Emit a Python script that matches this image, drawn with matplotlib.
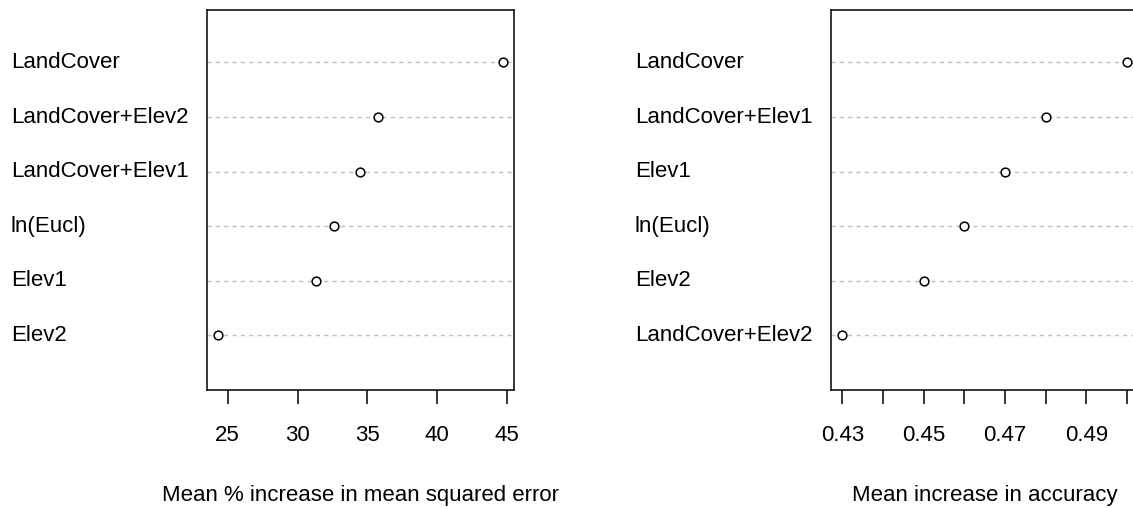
import matplotlib
matplotlib.use("Agg")
import matplotlib.pyplot as plt
from matplotlib.transforms import blended_transform_factory

plt.rcParams['font.family'] = ['Liberation Sans', 'DejaVu Sans']

# Left panel (bottom to top)
left_labels = ["Elev2", "Elev1", "ln(Eucl)", "LandCover+Elev1", "LandCover+Elev2", "LandCover"]
left_values = [24.33, 31.35, 32.63, 34.46, 35.74, 44.69]
left_ticks = [25, 30, 35, 40, 45]
left_ticklabels = ["25", "30", "35", "40", "45"]
left_xlabel = "Mean % increase in mean squared error"

# Right panel (bottom to top)
right_labels = ["LandCover+Elev2", "Elev2", "ln(Eucl)", "Elev1", "LandCover+Elev1", "LandCover"]
right_values = [0.43, 0.45, 0.46, 0.47, 0.48, 0.50]
right_ticks = [0.43, 0.44, 0.45, 0.46, 0.47, 0.48, 0.49, 0.50]
right_ticklabels = ["0.43", "", "0.45", "", "0.47", "", "0.49", ""]
right_xlabel = "Mean increase in accuracy"

W, H = 1133, 508
fig = plt.figure(figsize=(W / 100, H / 100), dpi=100)


def px_axes(x0, x1, y0, y1):
    return fig.add_axes([x0 / W, 1 - y1 / H, (x1 - x0) / W, (y1 - y0) / H])


def panel(ax, labels, values, ticks, ticklabels, xlabel, label_x_px):
    n = len(values)
    ys = list(range(1, n + 1))
    rng = max(values) - min(values)
    ax.set_xlim(min(values) - 0.04 * rng, max(values) + 0.04 * rng)
    ax.set_ylim(0.0, 6.97)
    for y in ys:
        ax.axhline(y, color="#c0c0c0", lw=1.0, ls=(0, (3, 3)), zorder=1)
    ax.plot(values, ys, ls="none", marker="o", ms=6.3, mfc="white",
            mec="black", mew=1.1, zorder=3)
    ax.set_yticks([])
    ax.set_xticks(ticks)
    ax.set_xticklabels(ticklabels, fontsize=16)
    ax.tick_params(axis="x", length=10, width=1.1, pad=15, color="black")
    for s in ax.spines.values():
        s.set_linewidth(1.1)
    ax.set_xlabel(xlabel, fontsize=16, labelpad=28)
    tr = blended_transform_factory(fig.transFigure, ax.transData)
    for lab, y in zip(labels, ys):
        ax.text(label_x_px / W, y, lab, transform=tr, ha="left", va="center",
                fontsize=16)


ax1 = px_axes(207, 514, 9.5, 390)
panel(ax1, left_labels, left_values, left_ticks, left_ticklabels, left_xlabel, 11)

ax2 = px_axes(831, 1138.5, 9.5, 390)
panel(ax2, right_labels, right_values, right_ticks, right_ticklabels, right_xlabel, 635)

fig.savefig("out.png", dpi=100)
